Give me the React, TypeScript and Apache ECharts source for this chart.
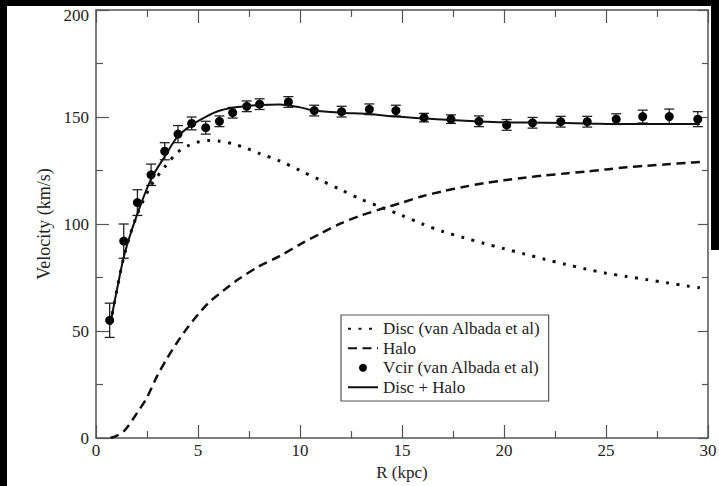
import React, { useEffect, useRef } from "react";
import * as echarts from "echarts";

// Disc (van Albada et al) — dotted curve
const discR = [0.7, 1.0, 1.4, 2.0, 2.7, 3.4, 4.0, 4.5, 5.0, 5.5, 6.0, 6.7, 7.4, 8.0, 9.0, 10, 11, 12, 13, 14, 15, 16, 17, 18, 19, 20, 21, 22, 23, 24, 25, 26, 27, 28, 29, 29.6];
const discV = [53, 68, 86, 104, 118, 127, 133.5, 136.5, 138.3, 139, 138.8, 137.5, 135.3, 133, 129.5, 125, 120.5, 116, 111.5, 107.8, 104, 100, 96.5, 93.7, 91, 88.5, 86, 83.5, 81.2, 79, 77, 75.5, 74, 72.5, 71, 70.2];

// Halo — dashed curve
const haloR = [0.7, 1.0, 1.4, 2.0, 2.5, 3.0, 3.5, 4.0, 4.5, 5.0, 5.5, 6.0, 6.5, 7.0, 8, 9, 10, 11, 12, 13, 14, 15, 16, 17, 18, 19, 20, 21, 22, 23, 24, 25, 26, 27, 28, 29, 29.6];
const haloV = [0, 1, 3.5, 11.5, 19, 29, 37.5, 45, 51.7, 57.7, 63, 67, 70.8, 74.3, 80.3, 85, 90.5, 95.5, 100.3, 104, 107.1, 110, 113, 115.3, 117.3, 119, 120.4, 121.6, 122.7, 123.6, 124.5, 125.5, 126.5, 127.2, 127.9, 128.6, 129];

// Disc + Halo — solid curve
const totalR = [0.7, 1.0, 1.4, 2.0, 2.7, 3.4, 4.0, 4.7, 5.4, 6.0, 6.7, 7.4, 8.0, 9.0, 10, 10.7, 12, 13.4, 14.7, 16, 17.4, 18.8, 20, 22, 24, 26, 28, 29.6];
const totalV = [53, 68, 86, 104, 121, 132, 140.8, 146.3, 150.2, 152.8, 154.3, 155.1, 155.6, 155.8, 154.5, 153, 152, 151.4, 150.2, 149.4, 148.6, 147.9, 147.5, 147.3, 147, 146.7, 146.7, 146.7];

// Vcir (van Albada et al) — observed points with error bars
const vcirR = [0.67, 1.36, 2.03, 2.70, 3.37, 4.02, 4.69, 5.38, 6.05, 6.70, 7.39, 8.02, 9.43, 10.70, 12.04, 13.40, 14.70, 16.08, 17.40, 18.77, 20.13, 21.40, 22.78, 24.08, 25.50, 26.80, 28.10, 29.50];
const vcirV = [55, 92, 110, 123, 134, 142, 147, 145, 148, 152, 155, 156, 157, 153, 152.5, 153.6, 153, 149.7, 149, 148, 146.3, 147.3, 147.8, 147.8, 149, 150.2, 150.2, 149];
const vcirErr = [8, 8, 6, 5, 4, 4, 3, 3, 2.5, 2.5, 2.5, 2.5, 2.5, 2.5, 2.5, 2.5, 2.5, 2, 2, 2.5, 2.5, 2.5, 2.5, 2.5, 2.5, 3, 3.5, 3.5];

const seriesNames = ["Disc (van Albada et al)", "Halo", "Vcir (van Albada et al)", "Disc + Halo"];

const FONT = "Liberation Serif";
const AXIS = "#555";
const INK = "#111";
const CLEAR = "rgba(0,0,0,0)";

const zip = (a: number[], b: number[]) => a.map((v, i) => [v, b[i]]);

export default function App() {
  const ref = useRef<HTMLDivElement>(null);
  useEffect(() => {
    if (!ref.current) return;
    const chart = echarts.init(ref.current, undefined, { renderer: "svg" });
    const axisCommon = {
      axisLine: { onZero: false, lineStyle: { color: AXIS, width: 1.5 } },
      axisTick: { inside: true, length: 13, lineStyle: { color: AXIS, width: 1.2 } },
      minorTick: { show: true, splitNumber: 2, length: 7, lineStyle: { color: AXIS, width: 1.2 } },
      splitLine: { show: false },
      minorSplitLine: { show: false },
    };
    const labelStyle = { fontFamily: FONT, fontSize: 17, color: "#222" };
    chart.setOption({
      animation: false,
      backgroundColor: "#fff",
      textStyle: { fontFamily: FONT },
      grid: { left: 89, top: 4, width: 612, height: 428, containLabel: false, outerBoundsMode: "none" },
      legend: {
        data: [
          { name: seriesNames[0], itemStyle: { opacity: 0 } },
          { name: seriesNames[1], itemStyle: { opacity: 0 } },
          { name: seriesNames[2] },
          { name: seriesNames[3], itemStyle: { opacity: 0 } },
        ],
        orient: "vertical",
        left: 334,
        top: 309,
        itemWidth: 30,
        itemHeight: 8,
        itemGap: 0,
        padding: [4, 8, 4, 6],
        borderColor: "#555",
        borderWidth: 1.2,
        backgroundColor: "#fff",
        textStyle: { fontFamily: FONT, fontSize: 17, color: "#222", lineHeight: 19.5 },
        selectedMode: false,
      },
      xAxis: [
        {
          type: "value", min: 0, max: 30, interval: 5, position: "bottom",
          ...axisCommon,
          axisLabel: { ...labelStyle, margin: 4 },
          name: "R (kpc)", nameLocation: "middle", nameGap: 21,
          nameTextStyle: { ...labelStyle },
        },
        {
          type: "value", min: 0, max: 30, interval: 5, position: "top",
          ...axisCommon,
          axisLabel: { show: false },
        },
      ],
      yAxis: [
        {
          type: "value", min: 0, max: 200, interval: 50, position: "left",
          ...axisCommon,
          axisLabel: {
            ...labelStyle, margin: 7,
            formatter: (v: number) => (v === 200 ? "{top|" + v + "}" : String(v)),
            rich: { top: { ...labelStyle, padding: [10, 0, 0, 0] } },
          },
          name: "Velocity (km/s)", nameLocation: "middle", nameGap: 40,
          nameTextStyle: { ...labelStyle, fontSize: 18 },
        },
        {
          type: "value", min: 0, max: 200, interval: 50, position: "right",
          ...axisCommon,
          axisTick: { inside: true, length: 10, lineStyle: { color: AXIS, width: 1.2 } },
          minorTick: { show: true, splitNumber: 2, length: 6, lineStyle: { color: AXIS, width: 1.2 } },
          axisLabel: { show: false },
        },
      ],
      series: [
        {
          name: seriesNames[0], type: "line", data: zip(discR, discV),
          smooth: 0.3, symbol: "none", showSymbol: false,
          lineStyle: { color: INK, width: 3, type: [3, 7.5] },
          itemStyle: { color: CLEAR },
        },
        {
          name: seriesNames[1], type: "line", data: zip(haloR, haloV),
          smooth: 0.3, symbol: "none", showSymbol: false,
          lineStyle: { color: INK, width: 2.5, type: [9, 5.5] },
          itemStyle: { color: CLEAR },
        },
        {
          type: "custom",
          data: vcirR.map((r, i) => [r, vcirV[i] - vcirErr[i], vcirV[i] + vcirErr[i]]),
          encode: { x: 0, y: [1, 2] },
          renderItem: (_params: any, api: any) => {
            const x = api.value(0);
            const lo = api.coord([x, api.value(1)]);
            const hi = api.coord([x, api.value(2)]);
            const hw = 5;
            const style = { stroke: "#222", lineWidth: 1.3, fill: null };
            return {
              type: "group",
              children: [
                { type: "line", shape: { x1: lo[0], y1: lo[1], x2: hi[0], y2: hi[1] }, style },
                { type: "line", shape: { x1: lo[0] - hw, y1: lo[1], x2: lo[0] + hw, y2: lo[1] }, style },
                { type: "line", shape: { x1: hi[0] - hw, y1: hi[1], x2: hi[0] + hw, y2: hi[1] }, style },
              ],
            };
          },
          z: 3,
        },
        {
          name: seriesNames[2], type: "scatter", data: zip(vcirR, vcirV),
          symbol: "circle", symbolSize: 9,
          itemStyle: { color: "#000", opacity: 1 },
          z: 4,
        },
        {
          name: seriesNames[3], type: "line", data: zip(totalR, totalV),
          smooth: 0.3, symbol: "none", showSymbol: false,
          lineStyle: { color: INK, width: 2 },
          itemStyle: { color: CLEAR },
          z: 5,
        },
      ],
    });
    return () => chart.dispose();
  }, []);
  return (
    <div style={{ position: "fixed", left: 0, top: 0, width: 719, height: 486, background: "#000" }}>
      <div
        ref={ref}
        style={{ position: "absolute", left: 7, top: 6, width: 712, height: 480, background: "#fff" }}
      />
      <div
        style={{ position: "absolute", left: 711, top: 0, width: 8, height: 250, background: "#000", pointerEvents: "none" }}
      />
    </div>
  );
}
